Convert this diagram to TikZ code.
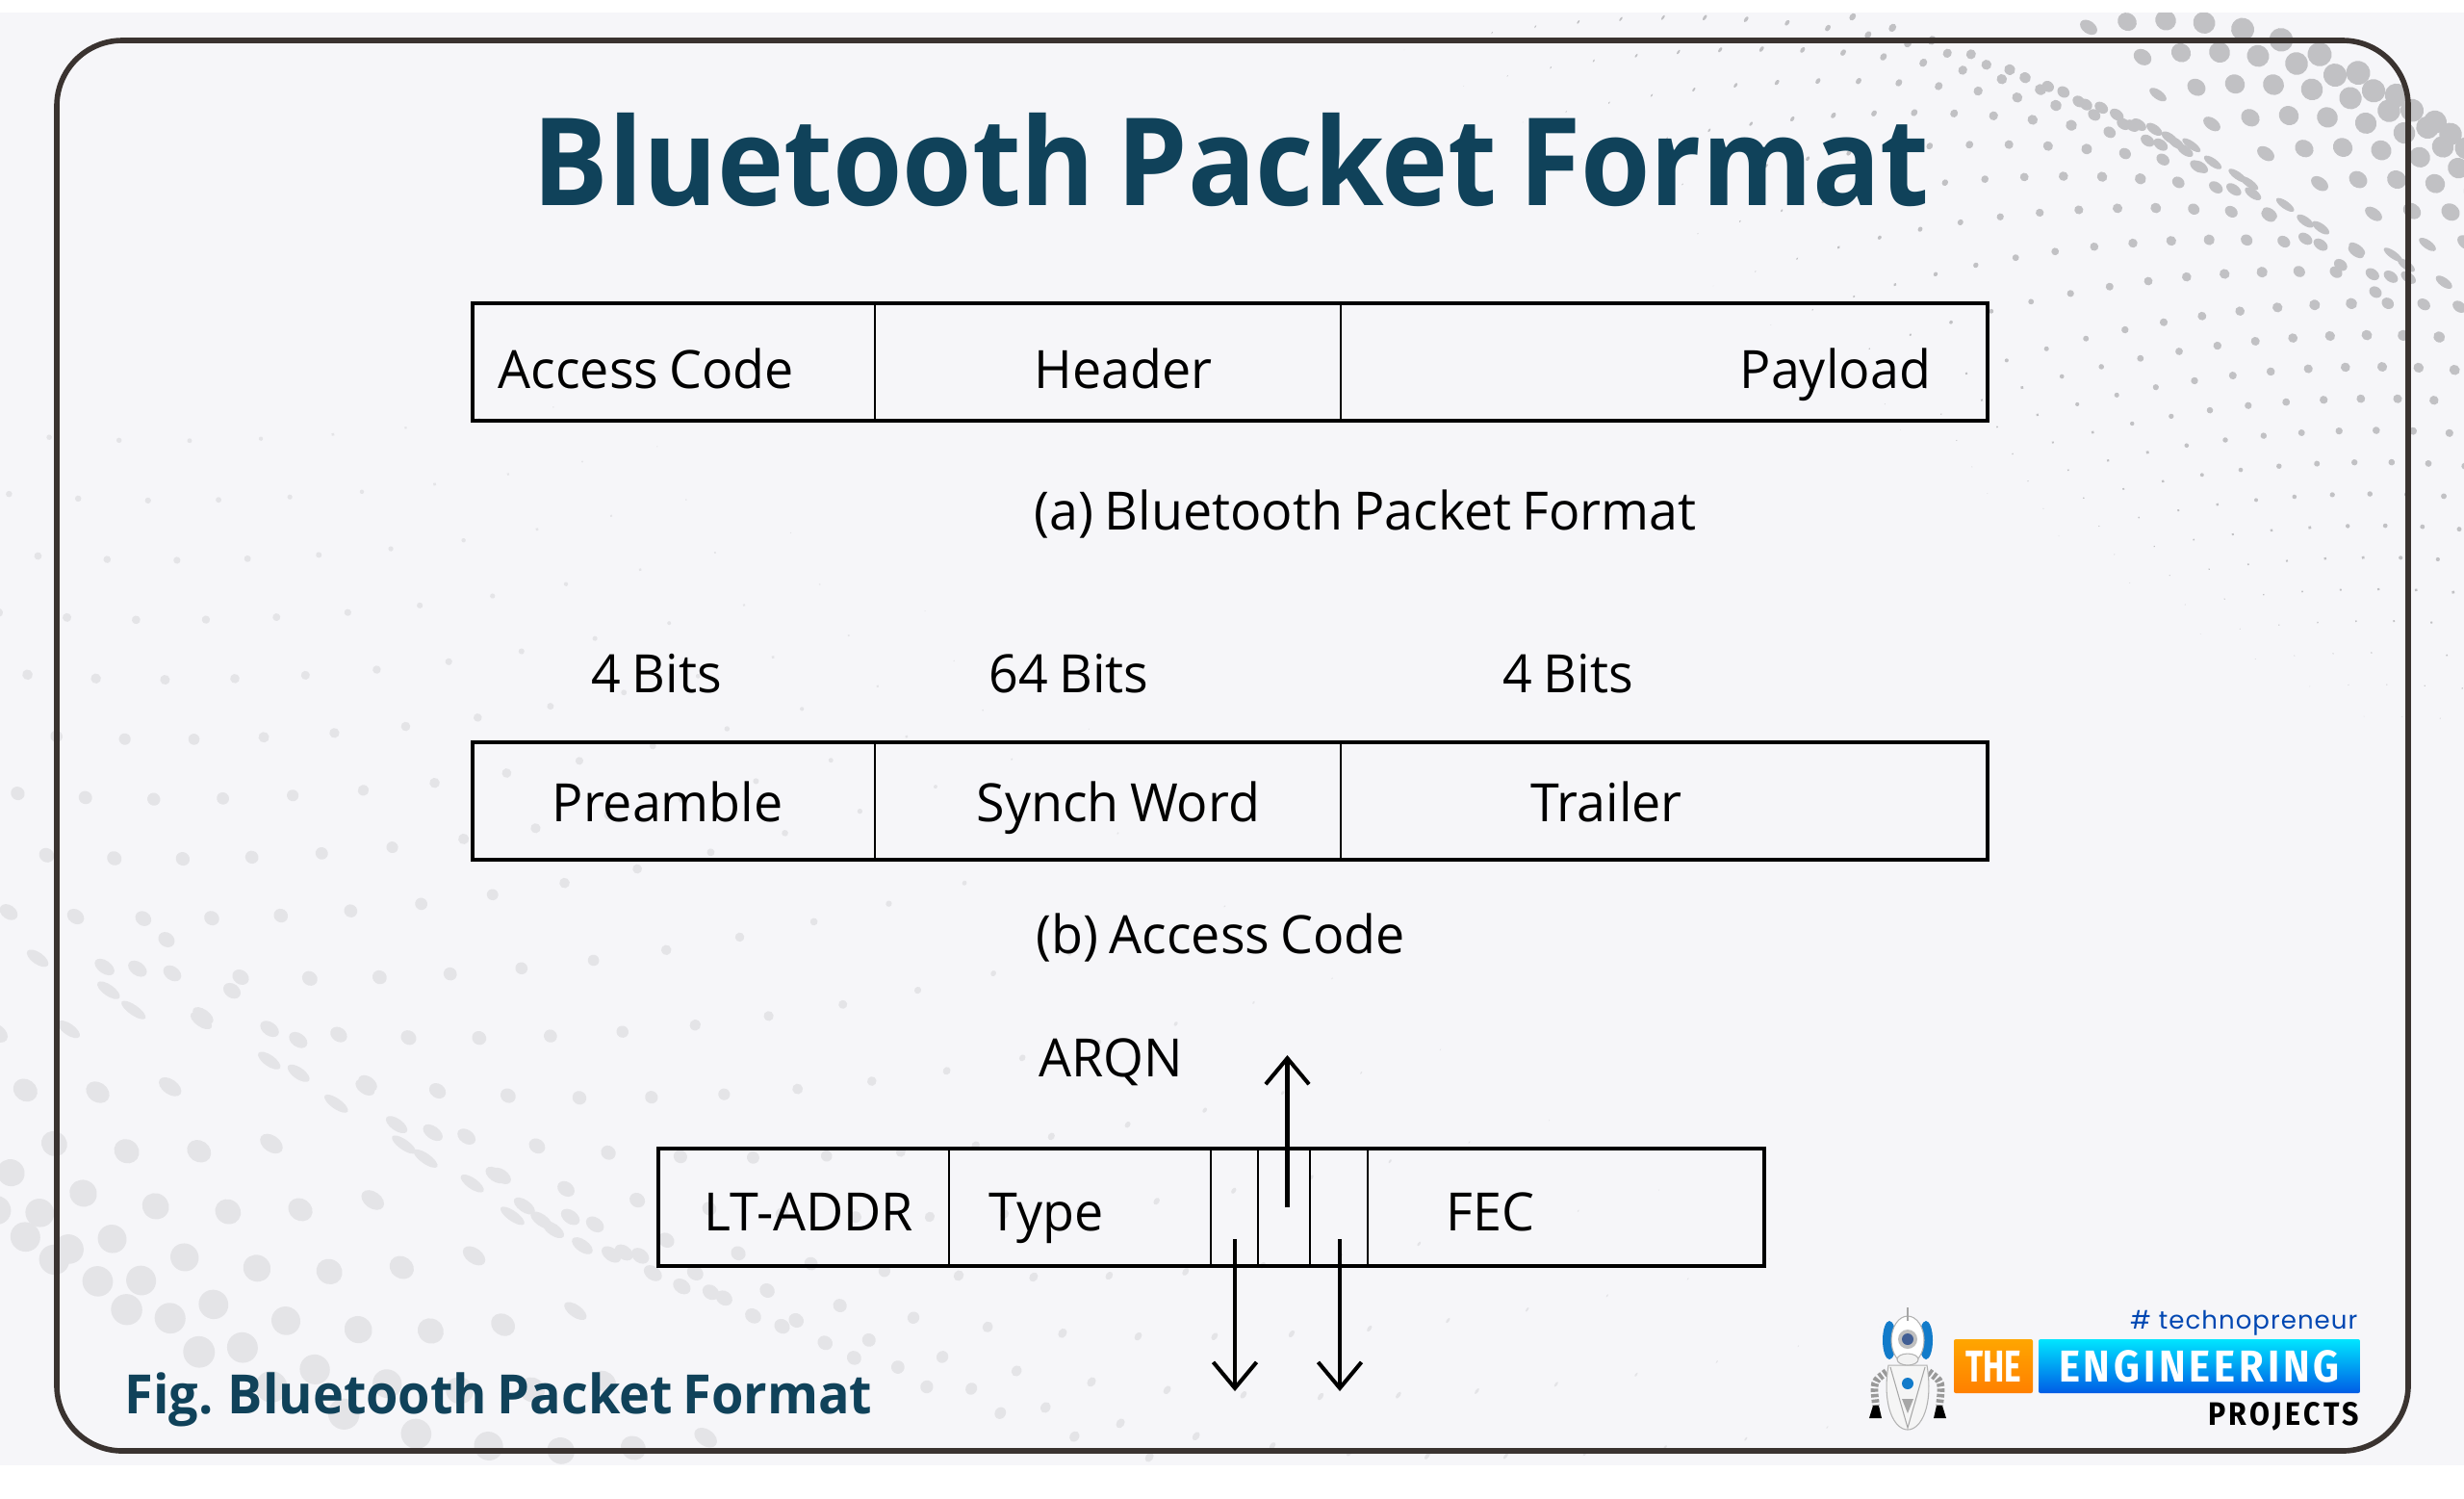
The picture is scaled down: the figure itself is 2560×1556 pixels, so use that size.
\documentclass[tikz,border=0pt]{standalone}
\usepackage{fontspec}
\usetikzlibrary{arrows.meta, positioning, calc}
\setmainfont[FakeStretch=0.98, WordSpace=0.8]{Open Sans}
\newfontfamily\titlefont[FakeStretch=0.925, WordSpace=0.75]{Open Sans}
\newfontfamily\figfont[FakeStretch=0.96, WordSpace=0.75]{Open Sans}
\newfontfamily\logofont[FakeStretch=0.72]{Fira Sans}
\newfontfamily\engfont[FakeStretch=0.9]{Fira Sans}
\newfontfamily\tagfont[LetterSpace=4]{Poppins}

\definecolor{bgcolor}{HTML}{F6F6F9}
\definecolor{framecolor}{HTML}{3A3330}
\definecolor{titlecolor}{HTML}{10425A}
\definecolor{dotdark}{HTML}{C1C1C4}
\definecolor{dotlight}{HTML}{E4E4E7}

\tikzset{
    pktcell/.style={draw=black, line width=0.7pt, outer sep=0pt, minimum height=1.22cm, inner sep=0pt, anchor=north west},
    pktframe/.style={draw=black, line width=1pt},
    pktarrow/.style={-{Straight Barb[length=0.27cm, width=0.45cm]}, black, line width=1.15pt},
    pktlabel/.style={font=\fontsize{15.6}{18}\selectfont, text=black, inner sep=0pt, anchor=base west},
}

% halftone wave: #1 colour, #2 last row, #3 dot size
\newcommand{\dotfield}[3]{%
    \foreach \row in {-7,...,#2} {
        \foreach \u in {0,...,32} {
            \pgfmathsetmacro{\xx}{2580-36*\u-0.2*\u*\u+16*\row}
            \pgfmathsetmacro{\dx}{(\xx-2230-80*min(\row,3))/100}
            \pgfmathsetmacro{\yy}{216+33*\row+(\dx>0 ? 5 : 4)*\dx*\dx}
            \pgfmathsetmacro{\rr}{(\xx-2130)/100}
            \pgfmathsetmacro{\gap}{\yy-(22+90*\rr-7*\rr*\rr)}
            \pgfmathsetmacro{\gp}{min(max(\gap,0),300)/25}
            \pgfmathsetmacro{\near}{1/(1+\gp*\gp)}
            \pgfmathsetmacro{\rad}{#3*7*exp(-\gp/16)*min(1,max(0,(\xx-1350-1.3*\yy)/400))*min(1,max(0,(900-\yy)/500))}
            \pgfmathsetmacro{\thin}{min(1,max(0.4,(\xx-1500)/600))}
            \pgfmathtruncatemacro{\keep}{(\gap>8 && \yy>-20 && \rad>0.3 && \xx<2600) ? 1 : 0}
            \ifnum\keep=1
                \fill[#1, rotate around={-35:(\xx,\yy)}] (\xx,\yy)
                    ellipse [x radius={\rad*(1+0.8*\near)*\thin}, y radius={\rad*(1-0.5*\near)}];
            \fi
        }
    }
    \foreach \row in {0,...,8} {
        \foreach \u in {0,...,13} {
            \pgfmathsetmacro{\xx}{2610-40*\u+16*\row}
            \pgfmathsetmacro{\dx}{(\xx-2245-45*\row)/100}
            \pgfmathsetmacro{\yy}{21+33*\row+13*\dx*\dx}
            \pgfmathsetmacro{\rr}{(\xx-2130)/100}
            \pgfmathsetmacro{\gap}{(22+90*\rr-7*\rr*\rr)-\yy}
            \pgfmathsetmacro{\gp}{min(max(\gap,0),300)/25}
            \pgfmathsetmacro{\near}{1/(1+\gp*\gp)}
            \pgfmathsetmacro{\rad}{#3*(8+5*min(1,\gp/7.2))}
            \pgfmathtruncatemacro{\keep}{(\gap>8 && \yy>-25) ? 1 : 0}
            \ifnum\keep=1
                \fill[#1, rotate around={-35:(\xx,\yy)}] (\xx,\yy)
                    ellipse [x radius={\rad*(1+0.3*\near)}, y radius={\rad*(1-0.6*\near)}];
            \fi
        }
    }
}

\begin{document}
\begin{tikzpicture}[x=0.01cm, y=-0.01cm]

\useasboundingbox (0,0) rectangle (2560,1556);
\fill[white] (0,0) rectangle (2560,1556);
\fill[bgcolor] (0,13) rectangle (2560,1522);

% ---------------------------------------------------------------- dots
\begin{scope}
    \clip (0,13) rectangle (2560,1522);
    \dotfield{dotdark}{16}{1}
    \begin{scope}[shift={(4812.8,1546.4)}, scale=-1.88]
        \dotfield{dotlight}{11}{0.7}
    \end{scope}
\end{scope}

\draw[framecolor, line width=1.6pt, rounded corners=0.68cm] (59,42) rectangle (2502,1507);

% ---------------------------------------------------------------- titles
\node[font=\titlefont\fontsize{36}{40}\selectfont\bfseries, text=titlecolor, inner sep=0pt, anchor=base west]
    (maintitle) at (553,213) {Bluetooth Packet Format};
\node[font=\figfont\fontsize{16}{19}\selectfont\bfseries, text=titlecolor, inner sep=0pt, anchor=base west]
    (figtitle) at (129,1468) {Fig. Bluetooth Packet Format};

% ---------------------------------------------------------------- packet rows
\foreach \name/\xa/\xb/\ytop in {%
    acc/491/909/315, head/909/1393/315, pay/1393/2065/315,
    pre/491/909/771, syn/909/1393/771, tra/1393/2065/771,
    ltad/684/986/1193, type/986/1258/1193, bita/1258/1307/1193,
    bitb/1307/1361/1193, bitc/1361/1421/1193, fec/1421/1833/1193} {
    \node[pktcell, minimum width={(\xb-\xa)*0.01cm}] (\name) at (\xa,\ytop) {};
}
\draw[pktframe] (acc.north west) rectangle (pay.south east);
\draw[pktframe] (pre.north west) rectangle (tra.south east);
\draw[pktframe] (ltad.north west) rectangle (fec.south east);

\foreach \name/\xa/\ybase/\lbl in {%
    lblacc/517/403/{Access Code},
    lblhead/1074/403/{Header},
    lblpay/1807/403/{Payload},
    capa/1074/550/{(a) Bluetooth Packet Format},
    bitsa/614/719/{4 Bits},
    bitsb/1027/719/{64 Bits},
    bitsc/1561/719/{4 Bits},
    lblpre/573/853/{Preamble},
    lblsyn/1014/853/{Synch Word},
    lbltra/1590/853/{Trailer},
    capb/1076/990/{(b) Access Code},
    lblarqn/1079/1118/{ARQN},
    lblltad/731/1278/{LT-ADDR},
    lbltype/1027/1278/{Type},
    lblfec/1502/1278/{FEC}} {
    \node[pktlabel] (\name) at (\xa,\ybase) {\lbl};
}

% ---------------------------------------------------------------- arrows
\coordinate (arqnin) at (1337.5,1254);
\coordinate (arqnout) at (1337.5,1096);
\coordinate (flowin) at (1283,1287);
\coordinate (flowout) at (1283,1445);
\coordinate (seqin) at (1392,1287);
\coordinate (seqout) at (1392,1445);
\draw[pktarrow] (arqnin) -- (arqnout);
\draw[pktarrow] (flowin) -- (flowout);
\draw[pktarrow] (seqin) -- (seqout);

% ---------------------------------------------------------------- logo
\shade[top color=orange!70!yellow, bottom color=orange, rounded corners=0.02cm] (2030,1391) rectangle (2112,1447);
\shade[top color=cyan!90!blue, bottom color=blue!60!cyan!90!black, rounded corners=0.02cm] (2118,1391) rectangle (2452,1447);
\node[font=\logofont\fontsize{13.2}{15}\selectfont\bfseries, text=white, inner sep=0pt, anchor=base]
    (logothe) at (2071,1435) {THE};
\node[font=\engfont\fontsize{13.2}{15}\selectfont\bfseries, text=white, inner sep=0pt, anchor=base]
    (logoeng) at (2285,1435) {E\kern1.1pt N\kern1.1pt G\kern1.1pt I\kern1.1pt N\kern1.1pt E\kern1.1pt E\kern1.1pt R\kern1.1pt I\kern1.1pt N\kern1.1pt G};
\node[font=\engfont\fontsize{9.6}{11}\selectfont\bfseries, text=black, inner sep=0pt, anchor=base east]
    (logopro) at (2452,1480) {P\kern0.9pt R\kern0.9pt O\kern0.9pt J\kern0.9pt E\kern0.9pt C\kern0.9pt T\kern0.9pt S};
\node[font=\tagfont\fontsize{7.4}{9}\selectfont, text=blue!60!cyan!70!black, inner sep=0pt, anchor=base east]
    (logotag) at (2450,1380) {\# technopreneur};

% robot
\foreach \s in {-1,1} {
    \draw[gray!80, line width=2.2pt, dash pattern=on 1pt off 0.6pt] (1982+\s*22,1425) .. controls (1982+\s*36,1435) .. (1982+\s*33,1460);
    \fill[black] (1982+\s*30,1460) -- (1982+\s*36,1460) -- (1982+\s*40,1473) -- (1982+\s*27,1473) -- cycle;
    \fill[cyan!60!blue] (1982+\s*19,1392) ellipse [x radius=7, y radius=20];
}
\draw[gray!60, fill=gray!8, line width=0.3pt] (1962,1418) .. controls (1955,1460) and (1968,1485) .. (1982,1485)
    .. controls (1996,1485) and (2009,1460) .. (2002,1418) -- cycle;
\draw[gray!70, line width=0.3pt] (1964,1420) -- (1982,1483) -- (2000,1420);
\fill[cyan!60!blue] (1982,1437) circle [radius=6];
\fill[gray!70] (1976,1453) -- (1988,1453) -- (1982,1468) -- cycle;
\draw[gray!60, fill=white, line width=0.3pt] (1982,1392) ellipse [x radius=17, y radius=25];
\draw[gray!60, fill=gray!10, line width=0.3pt] (1982,1412) ellipse [x radius=11, y radius=6];
\fill[gray!50] (1982,1391) circle [radius=10];
\fill[cyan!40!blue!70!black] (1982,1391) circle [radius=6];
\draw[gray!70, line width=0.4pt] (1982,1358) -- (1982,1372);

\end{tikzpicture}
\end{document}
